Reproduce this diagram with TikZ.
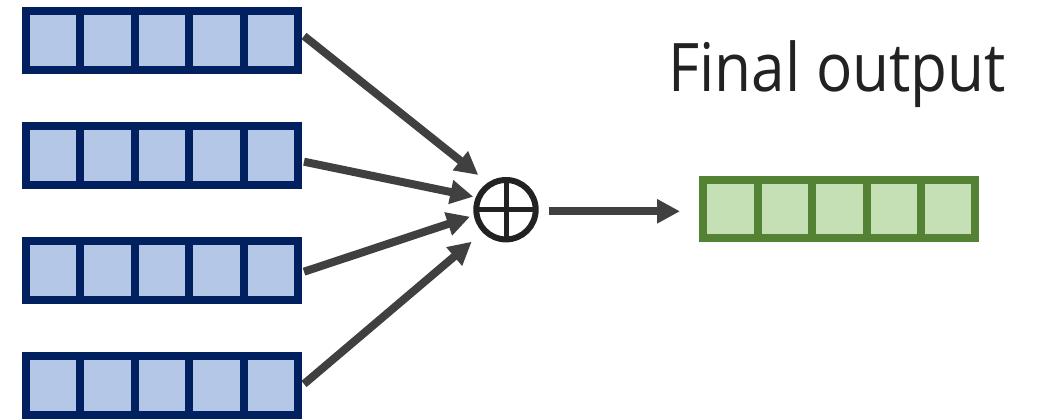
\documentclass[tikz,border=0pt]{standalone}
\usepackage{fontspec}
\setmainfont{Open Sans}
\newfontfamily\labelfont[FakeStretch=0.9]{Open Sans}
\usetikzlibrary{arrows.meta,calc}
\definecolor{cellblue}{HTML}{B4C7E7}
\definecolor{edgeblue}{HTML}{002060}
\definecolor{cellgreen}{HTML}{C5E0B4}
\definecolor{edgegreen}{HTML}{548235}
\definecolor{arrowgray}{HTML}{404040}
\definecolor{symbolink}{HTML}{222222}
\tikzset{
  cell/.style={rectangle, minimum width=54.4pt, minimum height=58.7pt,
    inner sep=0pt, outer sep=0pt, line width=8pt},
  bluecell/.style={cell, draw=edgeblue, fill=cellblue},
  greencell/.style={cell, draw=edgegreen, fill=cellgreen},
  arr/.style={draw=arrowgray, line width=8pt,
    -{Triangle[length=23pt,width=23pt]}},
  plusnode/.style={circle, draw=symbolink, line width=6pt,
    minimum size=59.4pt, inner sep=0pt, outer sep=0pt},
  label/.style={font=\labelfont\fontsize{67}{67}\selectfont, text=symbolink,
    inner sep=0pt, anchor=base west}
}
\begin{document}
\begin{tikzpicture}[x=1pt,y=-1pt]
  \useasboundingbox (0,0) rectangle (1038,419);
  % four input vectors, five cells each
  \foreach \r/\yy in {1/40.7, 2/155.7, 3/270.7, 4/385.3} {
    \foreach \c in {1,...,5} {
      \node[bluecell] (v\r c\c) at ({26+27.2+54.4*(\c-1)}, \yy) {};
    }
  }
  % output vector
  \foreach \c in {1,...,5} {
    \node[greencell] (g\c) at ({703.3+27.2+54.4*(\c-1)}, 209) {};
  }
  % summation symbol
  \node[plusnode] (o) at (506,209.7) {};
  \draw[symbolink, line width=5pt] (o.north) -- (o.south);
  \draw[symbolink, line width=5pt] (o.west) -- (o.east);
  % inputs into the sum
  \draw[arr] ([xshift=6pt,yshift=4.7pt]v1c5.east) -- ($(o)+(-27.7,-34.7)$);
  \draw[arr] ([xshift=6pt,yshift=-6pt]v2c5.east) -- ($(o)+(-32.7,-13)$);
  \draw[arr] ([xshift=6pt,yshift=-1pt]v3c5.east) -- ($(o)+(-36,7)$);
  \draw[arr] ([xshift=6pt,yshift=1.3pt]v4c5.east) -- ($(o)+(-34.3,32)$);
  % sum to output
  \draw[arr] ([xshift=13pt,yshift=-1.6pt]o.east) -- ([xshift=-23.3pt,yshift=-2.3pt]g1.west);
  \node[label] (title) at (668,91.7) {Final output};
\end{tikzpicture}
\end{document}
